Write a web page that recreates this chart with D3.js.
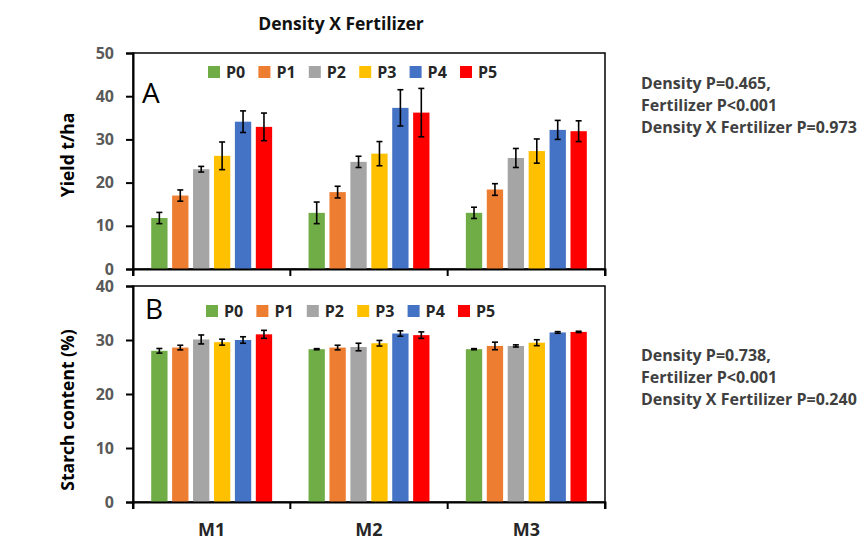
<!DOCTYPE html>
<html>
<head>
<meta charset="utf-8">
<script src="https://cdn.jsdelivr.net/npm/d3@7"></script>
<style>
  body { margin: 0; background: #fff; }
  text { font-family: "Open Sans", sans-serif; }
</style>
</head>
<body>
<div class="chart"></div>
<script>
var svgWidth = 858;
var svgHeight = 540;

// data
var groups = ["M1", "M2", "M3"];
var series = ["P0", "P1", "P2", "P3", "P4", "P5"];
var colors = ["#70ad47", "#ed7d31", "#a5a5a5", "#ffc000", "#4472c4", "#ff0000"];

// yield t/ha, rows = M1..M3, cols = P0..P5
var yieldMean = [
  [11.8, 17.0, 23.1, 26.2, 34.1, 32.9],
  [13.0, 17.8, 24.8, 26.7, 37.3, 36.2],
  [13.0, 18.4, 25.7, 27.3, 32.2, 31.9]
];
var yieldErr = [
  [1.3, 1.3, 0.65, 3.2, 2.5, 3.2],
  [2.5, 1.35, 1.3, 2.8, 4.2, 5.6],
  [1.3, 1.35, 2.2, 2.8, 2.2, 2.4]
];

// starch content %
var starchMean = [
  [28.0, 28.6, 30.1, 29.6, 30.0, 31.05],
  [28.3, 28.6, 28.7, 29.4, 31.2, 30.9],
  [28.3, 28.9, 28.9, 29.5, 31.4, 31.5]
];
var starchErr = [
  [0.43, 0.43, 0.83, 0.55, 0.6, 0.74],
  [0.1, 0.43, 0.7, 0.52, 0.5, 0.6],
  [0.1, 0.7, 0.2, 0.55, 0.15, 0.12]
];

var yieldTicks = [0, 10, 20, 30, 40, 50];
var starchTicks = [0, 10, 20, 30, 40];

var yieldStats = ["Density P=0.465,", "Fertilizer P<0.001", "Density X Fertilizer P=0.973"];
var starchStats = ["Density P=0.738,", "Fertilizer P<0.001", "Density X Fertilizer P=0.240"];

var svg = d3.select(".chart")
  .append("svg")
  .attr("width", svgWidth)
  .attr("height", svgHeight);

var plotLeft = 133;
var plotRight = 605;

var x0 = d3.scaleBand()
  .domain(groups)
  .range([plotLeft, plotRight])
  .padding(0);

var x1 = d3.scaleBand()
  .domain(series)
  .range([0, x0.bandwidth()])
  .paddingInner(0.22)
  .paddingOuter(0.87);

// title
svg.append("text")
  .attr("x", 341)
  .attr("y", 30)
  .attr("text-anchor", "middle")
  .style("font-size", "17.5px")
  .style("font-weight", "700")
  .attr("fill", "#111")
  .text("Density X Fertilizer");

function drawPanel(opts) {
  var y = d3.scaleLinear()
    .domain([0, opts.max])
    .range([opts.bottom, opts.top]);

  var g = svg.append("g");

  // frame
  g.append("rect")
    .attr("x", plotLeft)
    .attr("y", opts.top)
    .attr("width", plotRight - plotLeft)
    .attr("height", opts.bottom - opts.top)
    .attr("fill", "none")
    .attr("stroke", "#000")
    .attr("stroke-width", 1.5);

  // bars
  opts.mean.forEach(function(row, gi) {
    var grp = g.append("g")
      .attr("transform", `translate(${x0(groups[gi])},0)`);

    grp.selectAll("rect.bar")
      .data(row)
      .enter()
      .append("rect")
      .attr("class", "bar")
      .attr("x", (d, i) => x1(series[i]))
      .attr("y", d => y(d))
      .attr("width", x1.bandwidth())
      .attr("height", d => opts.bottom - y(d))
      .attr("fill", (d, i) => colors[i]);

    // error bars
    var eb = grp.selectAll("g.err")
      .data(row)
      .enter()
      .append("g")
      .attr("class", "err")
      .attr("transform", (d, i) => `translate(${x1(series[i]) + x1.bandwidth() / 2},0)`);

    eb.append("line")
      .attr("y1", (d, i) => y(d - opts.err[gi][i]))
      .attr("y2", (d, i) => y(d + opts.err[gi][i]))
      .attr("stroke", "#000")
      .attr("stroke-width", 1.6);
    eb.append("line")
      .attr("x1", -3).attr("x2", 3)
      .attr("y1", (d, i) => y(d - opts.err[gi][i]))
      .attr("y2", (d, i) => y(d - opts.err[gi][i]))
      .attr("stroke", "#000")
      .attr("stroke-width", 1.6);
    eb.append("line")
      .attr("x1", -3).attr("x2", 3)
      .attr("y1", (d, i) => y(d + opts.err[gi][i]))
      .attr("y2", (d, i) => y(d + opts.err[gi][i]))
      .attr("stroke", "#000")
      .attr("stroke-width", 1.6);
  });

  // y axis
  var leftAxis = d3.axisLeft(y)
    .tickValues(opts.ticks)
    .tickSize(7)
    .tickPadding(12);

  var yAxis = g.append("g")
    .attr("transform", `translate(${plotLeft},0)`)
    .call(leftAxis);
  yAxis.select(".domain").attr("stroke-width", 2);
  yAxis.selectAll(".tick line").attr("stroke-width", 2);
  yAxis.selectAll(".tick text")
    .attr("fill", "#595959")
    .style("font-size", "16px")
    .style("font-weight", "700");

  // x axis (group boundaries)
  var bottomAxis = d3.axisBottom(x0)
    .tickSize(7)
    .tickFormat("");
  var xAxis = g.append("g")
    .attr("transform", `translate(0,${opts.bottom})`)
    .call(bottomAxis);
  xAxis.select(".domain").attr("stroke-width", 2);
  xAxis.selectAll(".tick").remove();
  xAxis.selectAll(".bnd")
    .data(d3.range(groups.length + 1))
    .enter()
    .append("line")
    .attr("class", "bnd")
    .attr("x1", i => plotLeft + i * x0.step())
    .attr("x2", i => plotLeft + i * x0.step())
    .attr("y1", 0)
    .attr("y2", 7)
    .attr("stroke", "#000")
    .attr("stroke-width", 2);

  // panel letter
  g.append("text")
    .attr("x", opts.letterX)
    .attr("y", opts.letterY)
    .style("font-size", "28px")
    .attr("fill", "#000")
    .text(opts.letter);

  // legend
  var leg = g.selectAll("g.legend")
    .data(series)
    .enter()
    .append("g")
    .attr("class", "legend")
    .attr("transform", (d, i) => `translate(${opts.legendX + i * 50.4},${opts.legendY})`);
  leg.append("rect")
    .attr("width", 12)
    .attr("height", 12)
    .attr("fill", (d, i) => colors[i]);
  leg.append("text")
    .attr("x", 18)
    .attr("y", 12)
    .style("font-size", "16px")
    .style("font-weight", "700")
    .attr("fill", "#262626")
    .text(d => d);

  // axis title
  svg.append("text")
    .attr("transform", "rotate(-90)")
    .attr("x", -opts.labelY)
    .attr("y", 74)
    .attr("text-anchor", "middle")
    .style("font-size", "17.5px")
    .style("font-weight", "700")
    .attr("fill", "#000")
    .text(opts.label);

  // stats text
  svg.selectAll(null)
    .data(opts.stats)
    .enter()
    .append("text")
    .attr("x", 641)
    .attr("y", (d, i) => opts.statsY + i * 22)
    .style("font-size", "16px")
    .style("font-weight", "700")
    .attr("fill", "#404040")
    .text(d => d);
}

drawPanel({
  top: 53, bottom: 269, max: 50, ticks: yieldTicks,
  mean: yieldMean, err: yieldErr,
  letter: "A", letterX: 142, letterY: 103,
  legendX: 208, legendY: 66,
  label: "Yield t/ha", labelY: 155,
  stats: yieldStats, statsY: 89
});

drawPanel({
  top: 286, bottom: 502, max: 40, ticks: starchTicks,
  mean: starchMean, err: starchErr,
  letter: "B", letterX: 145, letterY: 319,
  legendX: 206, legendY: 305,
  label: "Starch content (%)", labelY: 410,
  stats: starchStats, statsY: 361
});

// group labels
svg.selectAll("text.grp")
  .data(groups)
  .enter()
  .append("text")
  .attr("class", "grp")
  .attr("x", d => x0(d) + x0.bandwidth() / 2)
  .attr("y", 536)
  .attr("text-anchor", "middle")
  .style("font-size", "18px")
  .style("font-weight", "700")
  .attr("fill", "#262626")
  .text(d => d);
</script>
</body>
</html>
